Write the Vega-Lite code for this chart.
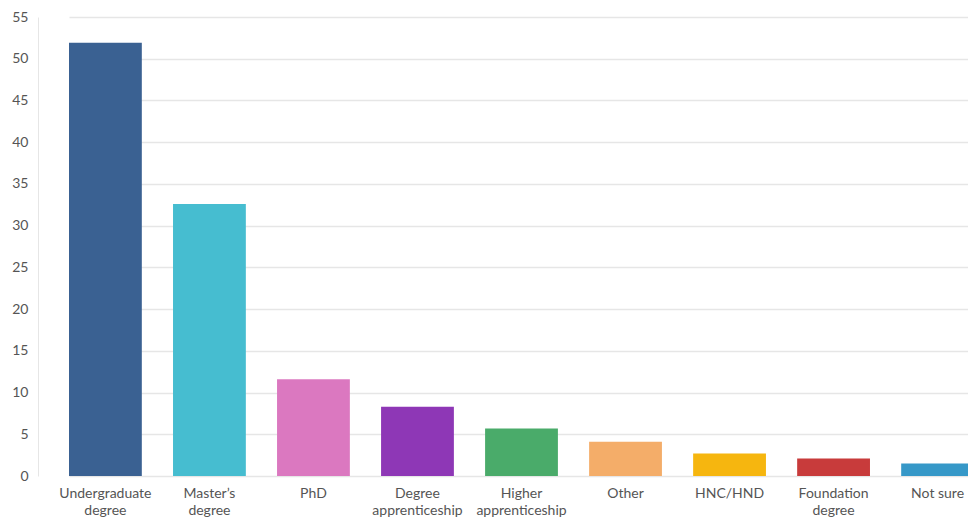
{
  "$schema": "https://vega.github.io/schema/vega-lite/v6.json",
  "autosize": "none",
  "padding": {"left": 38, "top": 17, "right": 0, "bottom": 53},
  "width": 930,
  "height": 459,
  "background": "#ffffff",
  "data": {"values": [
    {"category": "Undergraduate degree", "value": 51.9},
    {"category": "Master’s degree", "value": 32.6},
    {"category": "PhD", "value": 11.6},
    {"category": "Degree apprenticeship", "value": 8.3},
    {"category": "Higher apprenticeship", "value": 5.7},
    {"category": "Other", "value": 4.1},
    {"category": "HNC/HND", "value": 2.7},
    {"category": "Foundation degree", "value": 2.1},
    {"category": "Not sure", "value": 1.5}
  ]},
  "config": {
    "view": {"stroke": null},
    "font": "Lato"
  },
  "mark": {"type": "bar"},
  "encoding": {
    "x": {
      "field": "category", "type": "nominal", "sort": null, "title": null,
      "scale": {"range": [31, 936], "paddingInner": 0.3, "paddingOuter": 0},
      "axis": {
        "labelAngle": 0, "ticks": false, "domain": false,
        "labelPadding": 10, "labelFontSize": 14, "labelColor": "#555555",
        "labelLineHeight": 17, "labelBaseline": "top",
        "labelExpr": "datum.value == 'Not sure' ? datum.value : split(datum.value, ' ')"
      }
    },
    "y": {
      "field": "value", "type": "quantitative", "title": null,
      "scale": {"domain": [0, 55], "nice": false},
      "axis": {
        "values": [0, 5, 10, 15, 20, 25, 30, 35, 40, 45, 50, 55],
        "ticks": false, "domain": true, "domainColor": "#e6e6e6", "domainWidth": 1,
        "gridColor": "#e6e6e6", "gridWidth": 1.5,
        "labelPadding": 10, "labelFontSize": 14, "labelColor": "#555555"
      }
    },
    "color": {
      "field": "category", "type": "nominal", "legend": null,
      "scale": {
        "domain": ["Undergraduate degree", "Master’s degree", "PhD", "Degree apprenticeship", "Higher apprenticeship", "Other", "HNC/HND", "Foundation degree", "Not sure"],
        "range": ["#3a6192", "#46bdd0", "#db78c0", "#8e37b6", "#4aab6a", "#f4ad69", "#f6b60f", "#c83b3b", "#3698c8"]
      }
    }
  }
}
